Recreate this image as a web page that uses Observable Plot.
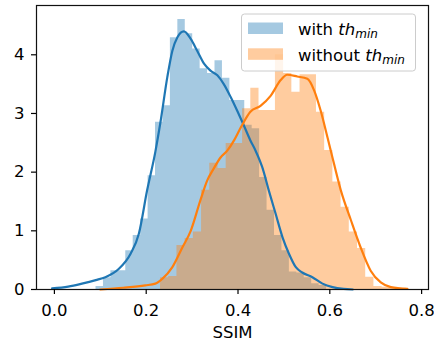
<!DOCTYPE html>
<html>
<head>
<meta charset="utf-8">
<script src="https://cdn.jsdelivr.net/npm/d3@7"></script>
<script src="https://cdn.jsdelivr.net/npm/@observablehq/plot@0.6"></script>
<style>
  body { margin: 0; background: white; }
  #chart { position: relative; width: 434px; height: 340px; }
</style>
</head>
<body>
<div id="chart"></div>
<script>
// ---- data ----
const seriesLabels = ["with", "without"];
const seriesColors = ["#1f77b4", "#ff7f0e"];
const xTicks = [0.0, 0.2, 0.4, 0.6, 0.8];
const yTicks = [0, 1, 2, 3, 4];
const xLabel = "SSIM";

// histogram: "with th_min"
const withBinStart = 0.0907;
const withBinWidth = 0.0162;
const withHeights = [0.05, 0.2, 0.32, 0.32, 0.66, 0.92, 1.2, 1.94, 2.85, 3.13, 4.29, 4.6, 4.36, 4.1, 3.76, 3.68, 3.9, 3.6, 3.22, 3.22, 2.8, 2.74, 1.91, 1.35, 0.92, 0.66, 0.3, 0.28, 0.2, 0.1, 0.07];

// histogram: "without th_min"
const withoutBinStart = 0.2312;
const withoutBinWidth = 0.01788;
const withoutHeights = [0.2, 0.22, 0.75, 0.87, 0.98, 1.69, 2.15, 2.06, 2.49, 2.49, 3.08, 3.43, 3.05, 3.05, 4.0, 3.68, 3.36, 3.66, 3.66, 3.02, 2.37, 1.83, 1.4, 0.98, 0.7, 0.21, 0.05, 0.04, 0.03, 0.02];

// density curves
const withKdeX = [-0.005, 0.03, 0.06, 0.09, 0.111, 0.14, 0.166, 0.184, 0.202, 0.22, 0.231, 0.246, 0.257, 0.268, 0.282, 0.297, 0.311, 0.326, 0.34, 0.355, 0.369, 0.384, 0.398, 0.413, 0.427, 0.438, 0.453, 0.467, 0.482, 0.497, 0.511, 0.526, 0.54, 0.562, 0.584, 0.606, 0.63, 0.65];
const withKdeY = [0.02, 0.05, 0.1, 0.16, 0.21, 0.35, 0.61, 0.95, 1.69, 2.35, 2.85, 3.62, 4.07, 4.30, 4.40, 4.27, 4.07, 3.85, 3.73, 3.65, 3.50, 3.28, 3.05, 2.79, 2.54, 2.37, 2.08, 1.69, 1.29, 0.89, 0.61, 0.38, 0.29, 0.21, 0.10, 0.04, 0.01, 0.0];
const withoutKdeX = [0.10, 0.15, 0.198, 0.22, 0.235, 0.257, 0.279, 0.297, 0.318, 0.333, 0.347, 0.362, 0.377, 0.392, 0.406, 0.427, 0.449, 0.471, 0.493, 0.507, 0.529, 0.551, 0.566, 0.58, 0.595, 0.602, 0.624, 0.646, 0.667, 0.689, 0.711, 0.733, 0.769];
const withoutKdeY = [0.0, 0.03, 0.07, 0.10, 0.18, 0.38, 0.72, 1.0, 1.52, 1.86, 2.06, 2.25, 2.37, 2.55, 2.76, 3.03, 3.13, 3.30, 3.57, 3.66, 3.63, 3.59, 3.39, 3.05, 2.59, 2.37, 1.69, 1.18, 0.72, 0.32, 0.12, 0.04, 0.01];

// ---- build tables ----
function steps(start, w, hs) {
  const pts = hs.map((h, i) => ({x: start + i * w, y: h}));
  pts.push({x: start + hs.length * w, y: hs[hs.length - 1]});
  return pts;
}
const withHist = steps(withBinStart, withBinWidth, withHeights);
const withoutHist = steps(withoutBinStart, withoutBinWidth, withoutHeights);
const withKde = withKdeX.map((x, i) => ({x, y: withKdeY[i]}));
const withoutKde = withoutKdeX.map((x, i) => ({x, y: withoutKdeY[i]}));

const font = "DejaVu Sans";

const svg = Plot.plot({
  width: 434,
  height: 340,
  marginLeft: 36,
  marginRight: 6,
  marginTop: 5,
  marginBottom: 51,
  x: {domain: [-0.039, 0.815]},
  y: {domain: [0, 4.84]},
  style: {fontFamily: font, fontSize: "16px", color: "black", background: "white"},
  marks: [
    Plot.areaY(withHist, {x: "x", y: "y", curve: "step-after", fill: seriesColors[0], fillOpacity: 0.4}),
    Plot.areaY(withoutHist, {x: "x", y: "y", curve: "step-after", fill: seriesColors[1], fillOpacity: 0.4}),
    Plot.line(withKde, {x: "x", y: "y", curve: "monotone-x", stroke: seriesColors[0], strokeWidth: 2.2}),
    Plot.line(withoutKde, {x: "x", y: "y", curve: "monotone-x", stroke: seriesColors[1], strokeWidth: 2.2}),
    Plot.frame({stroke: "#111", strokeWidth: 1.2}),
    Plot.axisX({ticks: xTicks, tickFormat: d3.format(".1f"), tickSize: 5, tickPadding: 10, label: null, strokeWidth: 1.2, fontSize: 16.5}),
    Plot.axisY({ticks: yTicks, tickFormat: d3.format("d"), tickSize: 5, tickPadding: 7, label: null, strokeWidth: 1.2, fontSize: 16.5}),
    Plot.text([xLabel], {frameAnchor: "bottom", dy: 48, text: d => d, fontSize: 16.5})
  ]
});
document.getElementById("chart").appendChild(svg);

// ---- legend (inside the plot, top right) ----
const sel = d3.select(svg);
const lg = sel.append("g").attr("font-family", font).attr("font-size", 16.5).attr("text-anchor", "start");
lg.append("rect")
  .attr("x", 241.5).attr("y", 14).attr("width", 174).attr("height", 57)
  .attr("rx", 3).attr("fill", "white").attr("fill-opacity", 0.8)
  .attr("stroke", "#cccccc").attr("stroke-width", 1);
seriesLabels.forEach((lab, i) => {
  const yTop = 22.5 + i * 25.8;
  lg.append("rect")
    .attr("x", 248).attr("y", yTop).attr("width", 35).attr("height", 11.5)
    .attr("fill", seriesColors[i]).attr("fill-opacity", 0.4);
  const t = lg.append("text").attr("x", 298).attr("y", 35 + i * 25.8).attr("fill", "black").attr("text-anchor", "start");
  t.append("tspan").text(lab + " ");
  t.append("tspan").attr("font-style", "italic").text("th");
  t.append("tspan").attr("font-style", "italic").attr("font-size", 12).attr("dy", 3).text("min");
});
</script>
</body>
</html>
